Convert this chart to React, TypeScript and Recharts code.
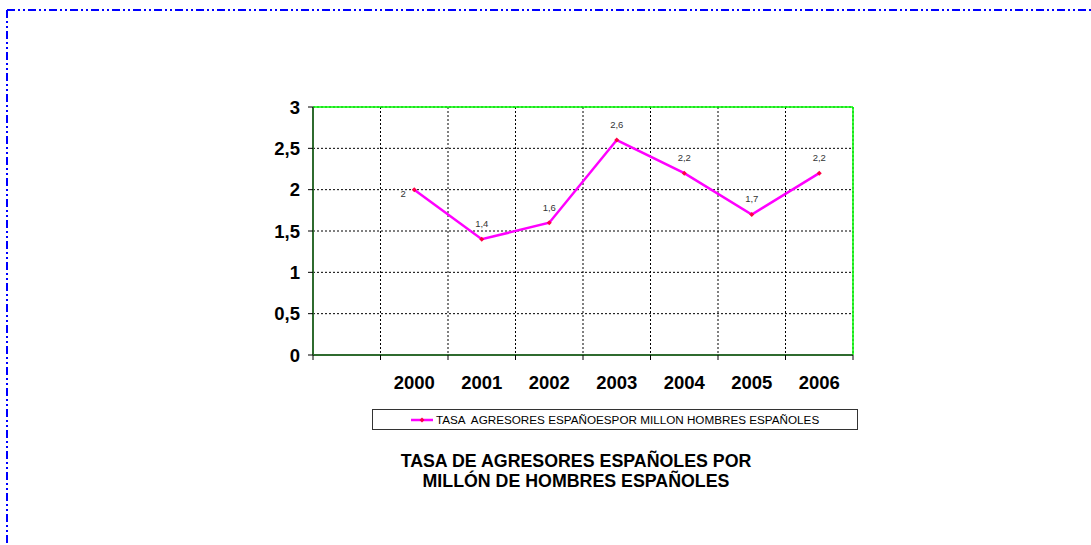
import React from "react";
import {
  ComposedChart,
  Line,
  XAxis,
  YAxis,
  CartesianGrid,
  ReferenceLine,
  LabelList,
} from "recharts";

const categories: string[] = ["", "2000", "2001", "2002", "2003", "2004", "2005", "2006"];
const values: (number | null)[] = [null, 2, 1.4, 1.6, 2.6, 2.2, 1.7, 2.2];
const yTicks: number[] = [0, 0.5, 1, 1.5, 2, 2.5, 3];
const seriesName = "TASA  AGRESORES ESPAÑOESPOR MILLON HOMBRES ESPAÑOLES";
const titleLines: string[] = ["TASA DE AGRESORES ESPAÑOLES POR", "MILLÓN DE HOMBRES ESPAÑOLES"];

const data = categories.map((c, i) => ({ x: i + 0.5, label: c, value: values[i] }));
const boundaryTicks = categories.map((_, i) => i).concat([categories.length]);

const fmt = (v: number) => String(v).replace(".", ",");
const FONT = "Arial, 'Liberation Sans', sans-serif";

const XTick = (props: any) => {
  const { x, y, index, width } = props;
  const label = categories[index];
  if (!label) return null;
  const half = (width || 540) / categories.length / 2;
  return (
    <text
      x={x + half}
      y={y + 27}
      textAnchor="middle"
      fontFamily={FONT}
      fontWeight="bold"
      fontSize={18.5}
      fill="#000"
    >
      {label}
    </text>
  );
};

const Dot = (props: any) => {
  const { cx, cy } = props;
  if (cx == null || cy == null || isNaN(cy)) return null;
  return (
    <path
      d={`M${cx},${cy - 2.5}L${cx + 2.5},${cy}L${cx},${cy + 2.5}L${cx - 2.5},${cy}Z`}
      fill="#ff0044"
      stroke="none"
    />
  );
};

const ValueLabel = (props: any) => {
  const { x, y, value, index } = props;
  if (value == null) return null;
  const left = index === 1;
  return (
    <text
      x={left ? x - 11 : x}
      y={left ? y + 7 : y - 12}
      textAnchor="middle"
      fontFamily={FONT}
      fontSize={9.5}
      fill="#333"
    >
      {fmt(value)}
    </text>
  );
};

export default function App() {
  return (
    <div style={{ position: "absolute", left: 0, top: 0, width: 1091, height: 545, background: "#fff" }}>
      <svg width={1091} height={545} style={{ position: "absolute", left: 0, top: 0 }}>
        <line x1={7} y1={10} x2={1091} y2={10} stroke="#0000ff" strokeWidth={2} strokeDasharray="8 3 2 3 2 3" />
        <line x1={7} y1={10} x2={7} y2={545} stroke="#0000ff" strokeWidth={2} strokeDasharray="8 3 2 3 2 3" />
      </svg>
      <div style={{ position: "absolute", left: 0, top: 0 }}>
        <ComposedChart
          width={1091}
          height={545}
          data={data}
          margin={{ top: 107, right: 238, bottom: 150, left: 253 }}
        >
          <CartesianGrid stroke="#000" strokeDasharray="2 2" />
          <XAxis
            dataKey="x"
            type="number"
            domain={[0, categories.length]}
            ticks={boundaryTicks}
            interval={0}
            height={40}
            tick={<XTick />}
            tickSize={5}
            tickLine={{ stroke: "#000" }}
            axisLine={{ stroke: "#2f6b2f", strokeWidth: 2 }}
            allowDataOverflow
          />
          <YAxis
            type="number"
            domain={[0, 3]}
            ticks={yTicks}
            interval={0}
            width={60}
            tickFormatter={fmt}
            tickSize={5}
            tickMargin={8}
            tickLine={{ stroke: "#000" }}
            axisLine={{ stroke: "#2f6b2f", strokeWidth: 2 }}
            tick={{ fontFamily: FONT, fontWeight: "bold", fontSize: 18.5, fill: "#000" }}
          />
          <ReferenceLine y={3} stroke="#00ff00" strokeWidth={1.5} />
          <ReferenceLine x={categories.length} stroke="#00ff00" strokeWidth={1.5} />
          <Line
            dataKey="value"
            type="linear"
            stroke="#ff00ff"
            strokeWidth={2.5}
            dot={<Dot />}
            activeDot={false}
            isAnimationActive={false}
            name={seriesName}
          >
            <LabelList dataKey="value" content={<ValueLabel />} />
          </Line>
        </ComposedChart>
      </div>
      <div
        style={{
          position: "absolute",
          left: 372,
          top: 409,
          width: 486,
          height: 21,
          boxSizing: "border-box",
          border: "1px solid #333",
          fontFamily: FONT,
          fontSize: 11.7,
          display: "flex",
          alignItems: "center",
          whiteSpace: "pre",
          color: "#000",
        }}
      >
        <svg width={24} height={10} style={{ marginLeft: 38, marginRight: 1 }}>
          <line x1={0} y1={5} x2={22} y2={5} stroke="#ff00ff" strokeWidth={2.5} />
          <path d="M11,2.5L13.5,5L11,7.5L8.5,5Z" fill="#ff0044" />
        </svg>
        <span>{seriesName}</span>
      </div>
      <div
        style={{
          position: "absolute",
          left: 326,
          top: 451,
          width: 500,
          textAlign: "center",
          fontFamily: FONT,
          fontWeight: "bold",
          fontSize: 17.8,
          lineHeight: "20px",
          color: "#000",
        }}
      >
        {titleLines.map((t, i) => (
          <div key={i}>{t}</div>
        ))}
      </div>
    </div>
  );
}
